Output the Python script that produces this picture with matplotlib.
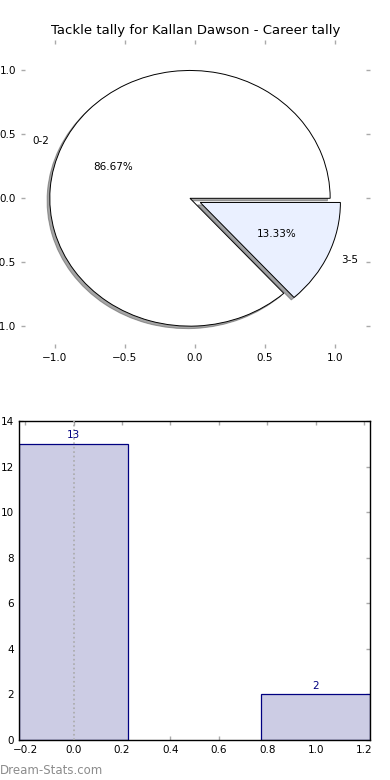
import matplotlib
matplotlib.use("Agg")
import matplotlib.pyplot as plt

title = "Tackle tally for Kallan Dawson - Career tally"
pie_labels = ["0-2", "3-5"]
pie_values = [13, 2]
pie_colors = ["#FFFFFF", "#EAF0FF"]
pie_explode = [0.0, 0.08]

bar_x = [0, 1]
bar_values = [13, 2]

fig = plt.figure(figsize=(3.9, 7.8), dpi=100)

# Pie axes
ax1 = fig.add_axes([0.054, 0.554, 0.895, 0.395])
wedges, texts, autotexts = ax1.pie(
    pie_values, labels=pie_labels, colors=pie_colors, explode=pie_explode,
    autopct="%.2f%%", shadow=dict(ox=-0.014, oy=-0.014), startangle=0,
    center=(-0.035, 0),
    wedgeprops=dict(edgecolor="black", linewidth=0.7),
    textprops=dict(fontsize=7.5), frame=True)
ax1.set_aspect("auto")
ax1.set_xlim(-1.24, 1.25)
ax1.set_ylim(-1.17, 1.24)
ax1.set_xticks([-1.0, -0.5, 0.0, 0.5, 1.0])
ax1.set_yticks([-1.0, -0.5, 0.0, 0.5, 1.0])
for s in ax1.spines.values():
    s.set_visible(False)
ax1.tick_params(axis="both", which="both", colors="#AAAAAA", labelcolor="black",
                labelsize=7.5, length=3, width=1, direction="in",
                top=True, right=True, bottom=True, left=True)
ax1.set_title(title, fontsize=9.5, pad=4)

# Bar axes
ax2 = fig.add_axes([0.049, 0.0513, 0.9, 0.409])
ax2.bar(bar_x, bar_values, width=0.45, color="#CCCCE4", edgecolor="#000080",
        linewidth=0.9, zorder=2)
ax2.axvline(0, color="#AAAAAA", linestyle=":", linewidth=1.2, zorder=3)
for xv, v in zip(bar_x, bar_values):
    ax2.text(xv, v + 0.15, str(v), ha="center", va="bottom", color="#000080",
             fontsize=7.5, zorder=4)
ax2.set_xlim(-0.225, 1.225)
ax2.set_ylim(0, 14)
ax2.set_xticks([-0.2, 0.0, 0.2, 0.4, 0.6, 0.8, 1.0, 1.2])
ax2.set_yticks([0, 2, 4, 6, 8, 10, 12, 14])
ax2.tick_params(axis="both", which="both", colors="#AAAAAA", labelcolor="black",
                labelsize=7.5, length=3, width=1, direction="in",
                top=True, right=True, bottom=True, left=True)
for s in ax2.spines.values():
    s.set_color("black")
    s.set_linewidth(1)

fig.text(0.0, 0.004, "Dream-Stats.com", color="#8C8C8C", fontsize=8.5,
         ha="left", va="bottom")

fig.savefig("out.png", dpi=100)
